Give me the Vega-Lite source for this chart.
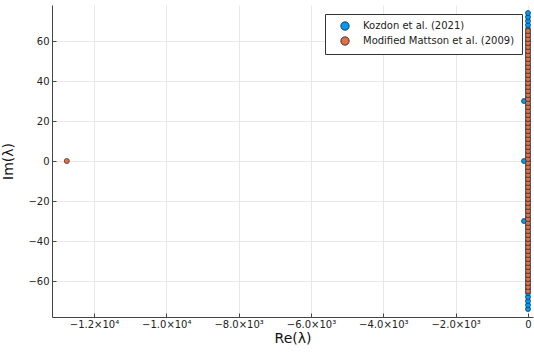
{
  "$schema": "https://vega.github.io/schema/vega-lite/v6.json",
  "width": 481,
  "height": 312,
  "autosize": {"type": "none"},
  "padding": {"left": 52, "top": 5, "right": 1, "bottom": 40},
  "background": "white",
  "config": {
    "font": "DejaVu Sans",
    "view": {"stroke": null},
    "axis": {
      "domainColor": "#444444",
      "domainWidth": 1,
      "tickColor": "#444444",
      "tickSize": -4,
      "gridColor": "#e8e8e8",
      "gridWidth": 1,
      "labelColor": "#222222",
      "labelFontSize": 10,
      "titleFontSize": 14,
      "titleFontWeight": "normal",
      "titleColor": "#111111"
    }
  },
  "data": {
    "values": [
      {"re": 0, "im": -74, "s": "Kozdon et al. (2021)"},
      {"re": 0, "im": -72, "s": "Kozdon et al. (2021)"},
      {"re": 0, "im": -70, "s": "Kozdon et al. (2021)"},
      {"re": 0, "im": -68, "s": "Kozdon et al. (2021)"},
      {"re": 0, "im": -66, "s": "Kozdon et al. (2021)"},
      {"re": 0, "im": -64, "s": "Kozdon et al. (2021)"},
      {"re": 0, "im": -62, "s": "Kozdon et al. (2021)"},
      {"re": 0, "im": -60, "s": "Kozdon et al. (2021)"},
      {"re": 0, "im": -58, "s": "Kozdon et al. (2021)"},
      {"re": 0, "im": -56, "s": "Kozdon et al. (2021)"},
      {"re": 0, "im": -54, "s": "Kozdon et al. (2021)"},
      {"re": 0, "im": -52, "s": "Kozdon et al. (2021)"},
      {"re": 0, "im": -50, "s": "Kozdon et al. (2021)"},
      {"re": 0, "im": -48, "s": "Kozdon et al. (2021)"},
      {"re": 0, "im": -46, "s": "Kozdon et al. (2021)"},
      {"re": 0, "im": -44, "s": "Kozdon et al. (2021)"},
      {"re": 0, "im": -42, "s": "Kozdon et al. (2021)"},
      {"re": 0, "im": -40, "s": "Kozdon et al. (2021)"},
      {"re": 0, "im": -38, "s": "Kozdon et al. (2021)"},
      {"re": 0, "im": -36, "s": "Kozdon et al. (2021)"},
      {"re": 0, "im": -34, "s": "Kozdon et al. (2021)"},
      {"re": 0, "im": -32, "s": "Kozdon et al. (2021)"},
      {"re": 0, "im": -30, "s": "Kozdon et al. (2021)"},
      {"re": 0, "im": -28, "s": "Kozdon et al. (2021)"},
      {"re": 0, "im": -26, "s": "Kozdon et al. (2021)"},
      {"re": 0, "im": -24, "s": "Kozdon et al. (2021)"},
      {"re": 0, "im": -22, "s": "Kozdon et al. (2021)"},
      {"re": 0, "im": -20, "s": "Kozdon et al. (2021)"},
      {"re": 0, "im": -18, "s": "Kozdon et al. (2021)"},
      {"re": 0, "im": -16, "s": "Kozdon et al. (2021)"},
      {"re": 0, "im": -14, "s": "Kozdon et al. (2021)"},
      {"re": 0, "im": -12, "s": "Kozdon et al. (2021)"},
      {"re": 0, "im": -10, "s": "Kozdon et al. (2021)"},
      {"re": 0, "im": -8, "s": "Kozdon et al. (2021)"},
      {"re": 0, "im": -6, "s": "Kozdon et al. (2021)"},
      {"re": 0, "im": -4, "s": "Kozdon et al. (2021)"},
      {"re": 0, "im": -2, "s": "Kozdon et al. (2021)"},
      {"re": 0, "im": 0, "s": "Kozdon et al. (2021)"},
      {"re": 0, "im": 2, "s": "Kozdon et al. (2021)"},
      {"re": 0, "im": 4, "s": "Kozdon et al. (2021)"},
      {"re": 0, "im": 6, "s": "Kozdon et al. (2021)"},
      {"re": 0, "im": 8, "s": "Kozdon et al. (2021)"},
      {"re": 0, "im": 10, "s": "Kozdon et al. (2021)"},
      {"re": 0, "im": 12, "s": "Kozdon et al. (2021)"},
      {"re": 0, "im": 14, "s": "Kozdon et al. (2021)"},
      {"re": 0, "im": 16, "s": "Kozdon et al. (2021)"},
      {"re": 0, "im": 18, "s": "Kozdon et al. (2021)"},
      {"re": 0, "im": 20, "s": "Kozdon et al. (2021)"},
      {"re": 0, "im": 22, "s": "Kozdon et al. (2021)"},
      {"re": 0, "im": 24, "s": "Kozdon et al. (2021)"},
      {"re": 0, "im": 26, "s": "Kozdon et al. (2021)"},
      {"re": 0, "im": 28, "s": "Kozdon et al. (2021)"},
      {"re": 0, "im": 30, "s": "Kozdon et al. (2021)"},
      {"re": 0, "im": 32, "s": "Kozdon et al. (2021)"},
      {"re": 0, "im": 34, "s": "Kozdon et al. (2021)"},
      {"re": 0, "im": 36, "s": "Kozdon et al. (2021)"},
      {"re": 0, "im": 38, "s": "Kozdon et al. (2021)"},
      {"re": 0, "im": 40, "s": "Kozdon et al. (2021)"},
      {"re": 0, "im": 42, "s": "Kozdon et al. (2021)"},
      {"re": 0, "im": 44, "s": "Kozdon et al. (2021)"},
      {"re": 0, "im": 46, "s": "Kozdon et al. (2021)"},
      {"re": 0, "im": 48, "s": "Kozdon et al. (2021)"},
      {"re": 0, "im": 50, "s": "Kozdon et al. (2021)"},
      {"re": 0, "im": 52, "s": "Kozdon et al. (2021)"},
      {"re": 0, "im": 54, "s": "Kozdon et al. (2021)"},
      {"re": 0, "im": 56, "s": "Kozdon et al. (2021)"},
      {"re": 0, "im": 58, "s": "Kozdon et al. (2021)"},
      {"re": 0, "im": 60, "s": "Kozdon et al. (2021)"},
      {"re": 0, "im": 62, "s": "Kozdon et al. (2021)"},
      {"re": 0, "im": 64, "s": "Kozdon et al. (2021)"},
      {"re": 0, "im": 66, "s": "Kozdon et al. (2021)"},
      {"re": 0, "im": 68, "s": "Kozdon et al. (2021)"},
      {"re": 0, "im": 70, "s": "Kozdon et al. (2021)"},
      {"re": 0, "im": 72, "s": "Kozdon et al. (2021)"},
      {"re": 0, "im": 74, "s": "Kozdon et al. (2021)"},
      {"re": -110, "im": 30, "s": "Kozdon et al. (2021)"},
      {"re": -110, "im": 0, "s": "Kozdon et al. (2021)"},
      {"re": -110, "im": -30, "s": "Kozdon et al. (2021)"},
      {"re": -12750, "im": 0, "s": "Modified Mattson et al. (2009)"},
      {"re": 0, "im": -65, "s": "Modified Mattson et al. (2009)"},
      {"re": 0, "im": -63, "s": "Modified Mattson et al. (2009)"},
      {"re": 0, "im": -61, "s": "Modified Mattson et al. (2009)"},
      {"re": 0, "im": -59, "s": "Modified Mattson et al. (2009)"},
      {"re": 0, "im": -57, "s": "Modified Mattson et al. (2009)"},
      {"re": 0, "im": -55, "s": "Modified Mattson et al. (2009)"},
      {"re": 0, "im": -53, "s": "Modified Mattson et al. (2009)"},
      {"re": 0, "im": -51, "s": "Modified Mattson et al. (2009)"},
      {"re": 0, "im": -49, "s": "Modified Mattson et al. (2009)"},
      {"re": 0, "im": -47, "s": "Modified Mattson et al. (2009)"},
      {"re": 0, "im": -45, "s": "Modified Mattson et al. (2009)"},
      {"re": 0, "im": -43, "s": "Modified Mattson et al. (2009)"},
      {"re": 0, "im": -41, "s": "Modified Mattson et al. (2009)"},
      {"re": 0, "im": -39, "s": "Modified Mattson et al. (2009)"},
      {"re": 0, "im": -37, "s": "Modified Mattson et al. (2009)"},
      {"re": 0, "im": -35, "s": "Modified Mattson et al. (2009)"},
      {"re": 0, "im": -33, "s": "Modified Mattson et al. (2009)"},
      {"re": 0, "im": -31, "s": "Modified Mattson et al. (2009)"},
      {"re": 0, "im": -29, "s": "Modified Mattson et al. (2009)"},
      {"re": 0, "im": -27, "s": "Modified Mattson et al. (2009)"},
      {"re": 0, "im": -25, "s": "Modified Mattson et al. (2009)"},
      {"re": 0, "im": -23, "s": "Modified Mattson et al. (2009)"},
      {"re": 0, "im": -21, "s": "Modified Mattson et al. (2009)"},
      {"re": 0, "im": -19, "s": "Modified Mattson et al. (2009)"},
      {"re": 0, "im": -17, "s": "Modified Mattson et al. (2009)"},
      {"re": 0, "im": -15, "s": "Modified Mattson et al. (2009)"},
      {"re": 0, "im": -13, "s": "Modified Mattson et al. (2009)"},
      {"re": 0, "im": -11, "s": "Modified Mattson et al. (2009)"},
      {"re": 0, "im": -9, "s": "Modified Mattson et al. (2009)"},
      {"re": 0, "im": -7, "s": "Modified Mattson et al. (2009)"},
      {"re": 0, "im": -5, "s": "Modified Mattson et al. (2009)"},
      {"re": 0, "im": -3, "s": "Modified Mattson et al. (2009)"},
      {"re": 0, "im": -1, "s": "Modified Mattson et al. (2009)"},
      {"re": 0, "im": 1, "s": "Modified Mattson et al. (2009)"},
      {"re": 0, "im": 3, "s": "Modified Mattson et al. (2009)"},
      {"re": 0, "im": 5, "s": "Modified Mattson et al. (2009)"},
      {"re": 0, "im": 7, "s": "Modified Mattson et al. (2009)"},
      {"re": 0, "im": 9, "s": "Modified Mattson et al. (2009)"},
      {"re": 0, "im": 11, "s": "Modified Mattson et al. (2009)"},
      {"re": 0, "im": 13, "s": "Modified Mattson et al. (2009)"},
      {"re": 0, "im": 15, "s": "Modified Mattson et al. (2009)"},
      {"re": 0, "im": 17, "s": "Modified Mattson et al. (2009)"},
      {"re": 0, "im": 19, "s": "Modified Mattson et al. (2009)"},
      {"re": 0, "im": 21, "s": "Modified Mattson et al. (2009)"},
      {"re": 0, "im": 23, "s": "Modified Mattson et al. (2009)"},
      {"re": 0, "im": 25, "s": "Modified Mattson et al. (2009)"},
      {"re": 0, "im": 27, "s": "Modified Mattson et al. (2009)"},
      {"re": 0, "im": 29, "s": "Modified Mattson et al. (2009)"},
      {"re": 0, "im": 31, "s": "Modified Mattson et al. (2009)"},
      {"re": 0, "im": 33, "s": "Modified Mattson et al. (2009)"},
      {"re": 0, "im": 35, "s": "Modified Mattson et al. (2009)"},
      {"re": 0, "im": 37, "s": "Modified Mattson et al. (2009)"},
      {"re": 0, "im": 39, "s": "Modified Mattson et al. (2009)"},
      {"re": 0, "im": 41, "s": "Modified Mattson et al. (2009)"},
      {"re": 0, "im": 43, "s": "Modified Mattson et al. (2009)"},
      {"re": 0, "im": 45, "s": "Modified Mattson et al. (2009)"},
      {"re": 0, "im": 47, "s": "Modified Mattson et al. (2009)"},
      {"re": 0, "im": 49, "s": "Modified Mattson et al. (2009)"},
      {"re": 0, "im": 51, "s": "Modified Mattson et al. (2009)"},
      {"re": 0, "im": 53, "s": "Modified Mattson et al. (2009)"},
      {"re": 0, "im": 55, "s": "Modified Mattson et al. (2009)"},
      {"re": 0, "im": 57, "s": "Modified Mattson et al. (2009)"},
      {"re": 0, "im": 59, "s": "Modified Mattson et al. (2009)"},
      {"re": 0, "im": 61, "s": "Modified Mattson et al. (2009)"},
      {"re": 0, "im": 63, "s": "Modified Mattson et al. (2009)"},
      {"re": 0, "im": 65, "s": "Modified Mattson et al. (2009)"}
    ]
  },
  "mark": {"type": "point", "filled": true, "shape": "circle", "size": 26, "opacity": 1, "stroke": "#1a1a1a", "strokeWidth": 0.6},
  "encoding": {
    "x": {
      "field": "re",
      "type": "quantitative",
      "scale": {"domain": [-13160, 138], "nice": false, "zero": false},
      "axis": {
        "title": "Re(λ)",
        "values": [-12000, -10000, -8000, -6000, -4000, -2000, 0],
        "labelExpr": "datum.value == 0 ? '0' : datum.value == -12000 ? '−1.2×10⁴' : datum.value == -10000 ? '−1.0×10⁴' : datum.value == -8000 ? '−8.0×10³' : datum.value == -6000 ? '−6.0×10³' : datum.value == -4000 ? '−4.0×10³' : '−2.0×10³'",
        "labelPadding": 6,
        "titlePadding": 2
      }
    },
    "y": {
      "field": "im",
      "type": "quantitative",
      "scale": {"domain": [-78, 78], "nice": false, "zero": false},
      "axis": {
        "title": "Im(λ)",
        "values": [-60, -40, -20, 0, 20, 40, 60],
        "labelPadding": 7,
        "titlePadding": 12
      }
    },
    "color": {
      "field": "s",
      "type": "nominal",
      "scale": {"domain": ["Kozdon et al. (2021)", "Modified Mattson et al. (2009)"], "range": ["#009AFA", "#E26F46"]},
      "legend": {
        "title": null,
        "orient": "none",
        "legendX": 273,
        "legendY": 9,
        "direction": "vertical",
        "strokeColor": "#333333",
        "fillColor": "white",
        "padding": 7,
        "labelFontSize": 10,
        "labelColor": "#222222",
        "symbolSize": 70,
        "symbolOffset": 8,
        "symbolStrokeColor": "#1a1a1a",
        "symbolStrokeWidth": 0.8,
        "rowPadding": 3,
        "labelOffset": 13,
        "offset": 0
      }
    }
  }
}
